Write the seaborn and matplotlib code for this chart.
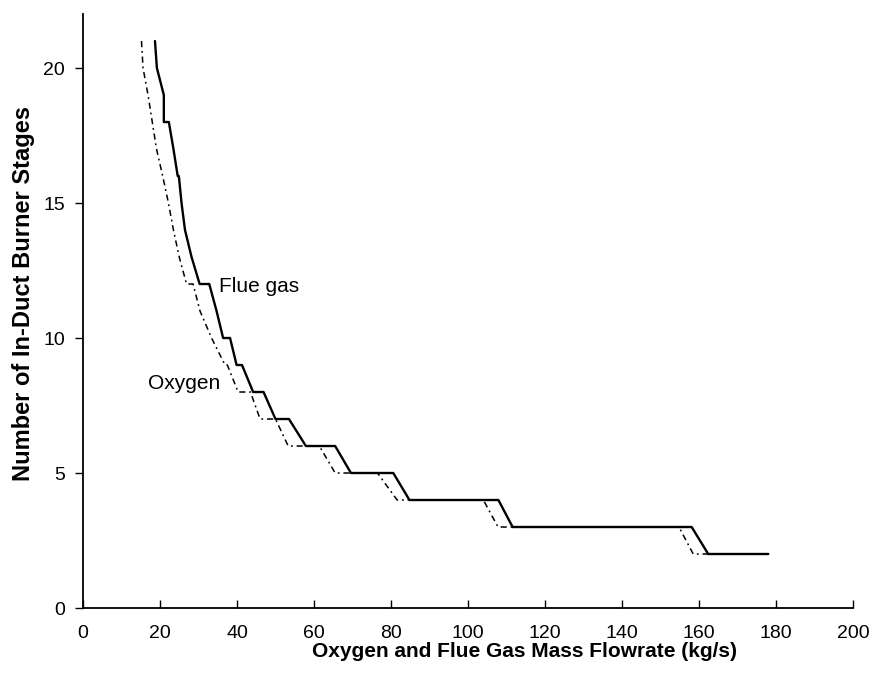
import matplotlib
matplotlib.use("Agg")
import matplotlib.pyplot as plt
import pandas as pd
import seaborn as sns

# Flue gas curve vertices (kg/s, stages)
FLUE_X = [18.7, 19.2, 21.0, 21.0, 22.3, 23.5, 24.6, 24.9, 25.6, 26.5, 28.2,
          30.3, 32.8, 34.7, 36.4, 38.2, 39.9, 41.3, 44.2, 46.9, 50.0, 53.5,
          57.9, 65.5, 69.6, 80.6, 84.8, 107.9, 111.6, 158.1, 162.4, 178.0]
FLUE_Y = [21, 20, 19, 18, 18, 17, 16, 16, 15, 14, 13,
          12, 12, 11, 10, 10, 9, 9, 8, 8, 7, 7,
          6, 6, 5, 5, 4, 4, 3, 3, 2, 2]

# Oxygen curve vertices
OXY_X = [15.2, 15.6, 16.9, 18.0, 19.1, 20.7, 22.2, 23.5, 25.0, 26.9, 28.6,
         30.4, 33.4, 36.9, 37.5, 40.3, 43.5, 46.0, 50.0, 53.3, 61.4, 65.5,
         76.5, 81.6, 104.0, 107.8, 154.8, 158.5, 176.0]
OXY_Y = [21, 20, 19, 18, 17, 16, 15, 14, 13, 12, 12,
         11, 10, 9, 9, 8, 8, 7, 7, 6, 6, 5,
         5, 4, 4, 3, 3, 2, 2]

X_TICKS = list(range(0, 201, 20))
Y_TICKS = [0, 5, 10, 15, 20]

sns.set_theme(style="ticks")
plt.rcParams.update({
    "text.color": "black",
    "axes.labelcolor": "black",
    "xtick.color": "black",
    "ytick.color": "black",
})
plt.rcParams["font.family"] = ["Liberation Sans", "DejaVu Sans"]

flue = pd.DataFrame({"flow": FLUE_X, "stages": FLUE_Y})
oxy = pd.DataFrame({"flow": OXY_X, "stages": OXY_Y})

fig = plt.figure(figsize=(8.79, 6.84), dpi=100)
ax = fig.add_axes([0.0944, 0.1111, 0.876, 0.8684])

sns.lineplot(data=oxy, x="flow", y="stages", ax=ax, sort=False, estimator=None,
             color="black", linewidth=1.1, linestyle=(0, (4, 2.5, 1.2, 2.5)))
sns.lineplot(data=flue, x="flow", y="stages", ax=ax, sort=False, estimator=None,
             color="black", linewidth=1.7)

ax.text(35.3, 11.9, "Flue gas", fontsize=15, va="center", ha="left")
ax.text(16.9, 8.3, "Oxygen", fontsize=15, va="center", ha="left")

ax.set_xlim(0, 200)
ax.set_ylim(0, 22)
ax.set_xticks(X_TICKS)
ax.set_yticks(Y_TICKS)
ax.tick_params(axis="x", direction="in", length=6, width=1, labelsize=14, pad=12)
ax.tick_params(axis="y", direction="out", length=6, width=1, labelsize=14, pad=7)

ax.set_xlabel("Oxygen and Flue Gas Mass Flowrate (kg/s)", fontsize=15,
              fontweight="bold")
ax.set_ylabel("Number of In-Duct Burner Stages", fontsize=17,
              fontweight="bold")
ax.xaxis.set_label_coords(0.574, -0.058)
ax.yaxis.set_label_coords(-0.062, 0.529)

for side in ["top", "right"]:
    ax.spines[side].set_visible(False)
for side in ["left", "bottom"]:
    ax.spines[side].set_linewidth(1.3)
    ax.spines[side].set_color("black")

fig.savefig("out.png", dpi=100)
